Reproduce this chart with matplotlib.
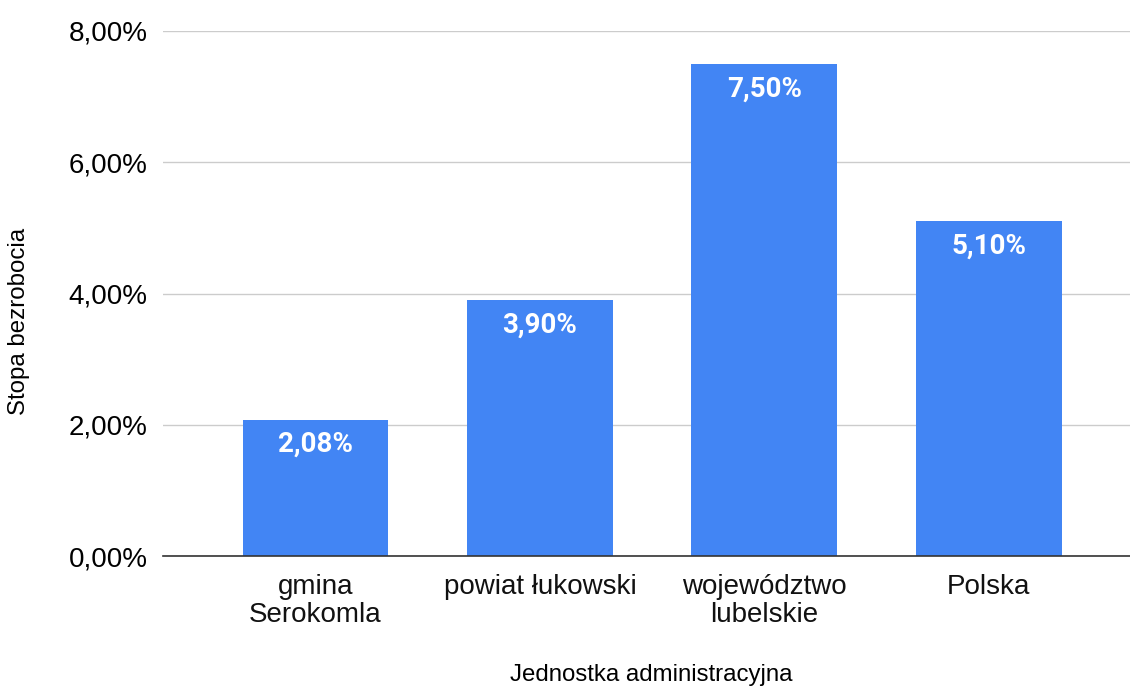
import matplotlib
matplotlib.use("Agg")
import matplotlib.pyplot as plt
from matplotlib.ticker import FuncFormatter

categories = ["gmina\nSerokomla", "powiat łukowski", "województwo\nlubelskie", "Polska"]
values = [2.08, 3.90, 7.50, 5.10]
yticks = [0, 2, 4, 6, 8]

plt.rcParams['font.family'] = ['Liberation Sans', 'DejaVu Sans']

fig = plt.figure(figsize=(11.3, 6.86), dpi=100)
ax = fig.add_axes([163/1130, 1-556/686, (1130-163)/1130, (556-31)/686])

x = list(range(len(categories)))
bars = ax.bar(x, values, width=0.65, color="#4285F4", zorder=3)

for b, v in zip(bars, values):
    ax.annotate(f"{v:.2f}%".replace(".", ","), (b.get_x()+b.get_width()/2, v),
                xytext=(0, -25), textcoords="offset pixels",
                ha="center", va="center", color="white", fontsize=20,
                fontweight="bold", family=["Roboto", "DejaVu Sans"])

ax.set_xlim(-0.68, 3.63)
ax.set_ylim(0, 8)
ax.set_yticks(yticks)
ax.yaxis.set_major_formatter(FuncFormatter(lambda v, p: f"{v:.2f}%".replace(".", ",")))
ax.grid(axis="y", color="#cccccc", linewidth=1, zorder=0)
for s in ["top", "right", "left"]:
    ax.spines[s].set_visible(False)
ax.spines["bottom"].set_color("#333333")
ax.spines["bottom"].set_linewidth(1.2)
ax.spines["bottom"].set_zorder(4)
ax.tick_params(axis="y", length=0, labelsize=20, pad=11, labelcolor="#000000")
ax.tick_params(axis="x", length=0, labelsize=20, pad=13, labelcolor="#111111")
ax.set_xticks(x)
ax.set_xticklabels(categories, linespacing=1.12)

fig.text(651/1130, 1-675/686, "Jednostka administracyjna", ha="center", va="center", fontsize=17.3)
fig.text(19/1130, 1-321/686, "Stopa bezrobocia", ha="center", va="center", rotation=90, fontsize=17.3)

fig.savefig("out.png", dpi=100)
